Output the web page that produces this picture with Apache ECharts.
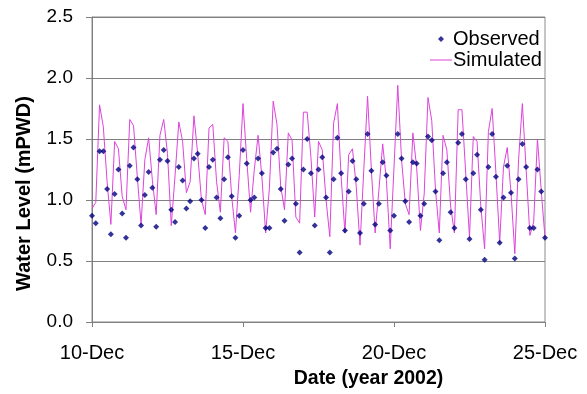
<!DOCTYPE html>
<html>
<head>
<meta charset="utf-8">
<script src="https://cdn.jsdelivr.net/npm/echarts@6/dist/echarts.min.js"></script>
<style>html,body{margin:0;padding:0;background:#fff}#c{width:587px;height:394px}</style>
</head>
<body>
<div id="c"></div>
<script>
// time step between readings (hours), starting 10-Dec-2002 00:00
var stepHours = 3;
var xTickLabels = ['10-Dec', '15-Dec', '20-Dec', '25-Dec'];
var yTickLabels = ['0.0', '0.5', '1.0', '1.5', '2.0', '2.5'];

var observed = [0.87,0.81,1.40,1.40,1.09,0.72,1.05,1.25,0.89,0.69,
1.28,1.43,1.17,0.79,1.04,1.23,1.10,0.78,1.33,1.41,
1.32,0.92,0.82,1.27,1.16,0.93,0.99,1.34,1.38,1.00,
0.77,1.27,1.33,1.02,0.85,1.17,1.35,1.03,0.69,0.87,
1.41,1.30,1.00,1.02,1.34,1.22,0.77,0.77,1.39,1.42,
1.09,0.83,1.29,1.34,0.97,0.57,1.25,1.50,1.22,0.79,
1.25,1.35,1.02,0.57,1.17,1.51,1.22,0.75,1.07,1.32,
1.17,0.73,0.97,1.54,1.24,0.80,0.97,1.31,1.20,0.75,
0.87,1.54,1.34,0.99,0.82,1.31,1.30,0.87,0.97,1.52,
1.49,1.07,0.67,1.22,1.31,0.90,0.77,1.47,1.54,1.17,
0.68,1.22,1.37,0.92,0.51,1.27,1.54,1.19,0.65,1.02,
1.28,1.06,0.52,1.17,1.46,1.27,0.77,0.77,1.25,1.07,
0.69];

var simulated = [0.93,0.98,1.78,1.60,1.15,0.80,1.48,1.42,1.03,0.92,
1.66,1.61,1.19,0.80,1.33,1.51,1.16,0.88,1.53,1.66,
1.38,0.79,1.20,1.64,1.48,1.06,1.15,1.69,1.38,1.00,
0.88,1.59,1.62,1.15,0.90,1.51,1.48,1.03,0.73,1.20,
1.79,1.33,0.90,1.25,1.53,1.19,0.73,1.10,1.81,1.62,
1.11,0.92,1.55,1.49,0.86,0.81,1.72,1.72,1.35,0.86,
1.48,1.41,1.00,0.70,1.63,1.79,1.19,0.73,1.37,1.42,
1.11,0.63,1.25,1.85,1.25,0.73,1.08,1.46,1.16,0.60,
1.27,1.94,1.33,0.97,0.88,1.55,1.27,0.75,1.05,1.84,
1.65,1.08,0.73,1.53,1.41,0.95,0.73,1.74,1.74,1.22,
0.69,1.52,1.48,0.95,0.60,1.56,1.75,1.22,0.65,1.27,
1.43,1.06,0.56,1.33,1.79,1.25,0.71,0.82,1.50,1.08,
0.69];

function pairs(arr) {
  return arr.map(function (v, i) { return [i * stepHours, v]; });
}

var FONT = 'Liberation Sans, Arial, sans-serif';
var chart = echarts.init(document.getElementById('c'), null, {renderer: 'canvas'});
chart.setOption({
  animation: false,
  backgroundColor: '#ffffff',
  grid: {left: 92, right: 42, top: 17, bottom: 72, show: true, borderColor: '#8a8a8a', borderWidth: 1, containLabel: false},
  legend: [{
    data: [{name: 'Observed', icon: 'diamond'}],
    left: 433, top: 24, itemWidth: 6, itemHeight: 6, itemGap: 0,
    textStyle: {fontFamily: FONT, fontSize: 20, color: '#000', padding: [0, 0, 0, 4]}
  }, {
    data: [{name: 'Simulated', icon: 'rect'}],
    left: 425, top: 45, itemWidth: 22, itemHeight: 1, itemGap: 0,
    textStyle: {fontFamily: FONT, fontSize: 20, color: '#000', padding: [0, 0, 0, -4]}
  }],
  xAxis: {
    type: 'value', min: 0, max: 360, interval: 120,
    name: 'Date (year 2002)', nameLocation: 'middle', nameGap: 47,
    nameTextStyle: {fontFamily: FONT, fontSize: 19.5, fontWeight: 'bold', color: '#000', padding: [0, 0, 0, 100]},
    axisLine: {show: true, lineStyle: {color: '#808080', width: 1}},
    axisTick: {show: true, inside: false, length: 5, lineStyle: {color: '#808080'}},
    axisLabel: {fontFamily: FONT, fontSize: 20, color: '#000', margin: 21,
      formatter: function (v) { return xTickLabels[Math.round(v / 120)]; }},
    splitLine: {show: false}
  },
  yAxis: {
    type: 'value', min: 0, max: 2.5, interval: 0.5,
    name: 'Water Level (mPWD)', nameLocation: 'middle', nameGap: 58,
    nameTextStyle: {fontFamily: FONT, fontSize: 20, fontWeight: 'bold', color: '#000', padding: [0, 48, 0, 0]},
    axisLine: {show: true, lineStyle: {color: '#808080', width: 1}},
    axisTick: {show: true, inside: false, length: 6, lineStyle: {color: '#808080'}},
    axisLabel: {fontFamily: FONT, fontSize: 19, color: '#000', margin: 19,
      formatter: function (v) { return yTickLabels[Math.round(v / 0.5)]; }},
    splitLine: {show: true, lineStyle: {color: '#808080', width: 1}}
  },
  series: [{
    name: 'Simulated', type: 'line', data: pairs(simulated),
    symbol: 'none', lineStyle: {color: '#dd44dd', width: 1}, itemStyle: {color: '#dd44dd'}, z: 2
  }, {
    name: 'Observed', type: 'scatter', data: pairs(observed),
    symbol: 'diamond', symbolSize: 6, itemStyle: {color: '#000080'}, z: 3
  }]
});
</script>
</body>
</html>
